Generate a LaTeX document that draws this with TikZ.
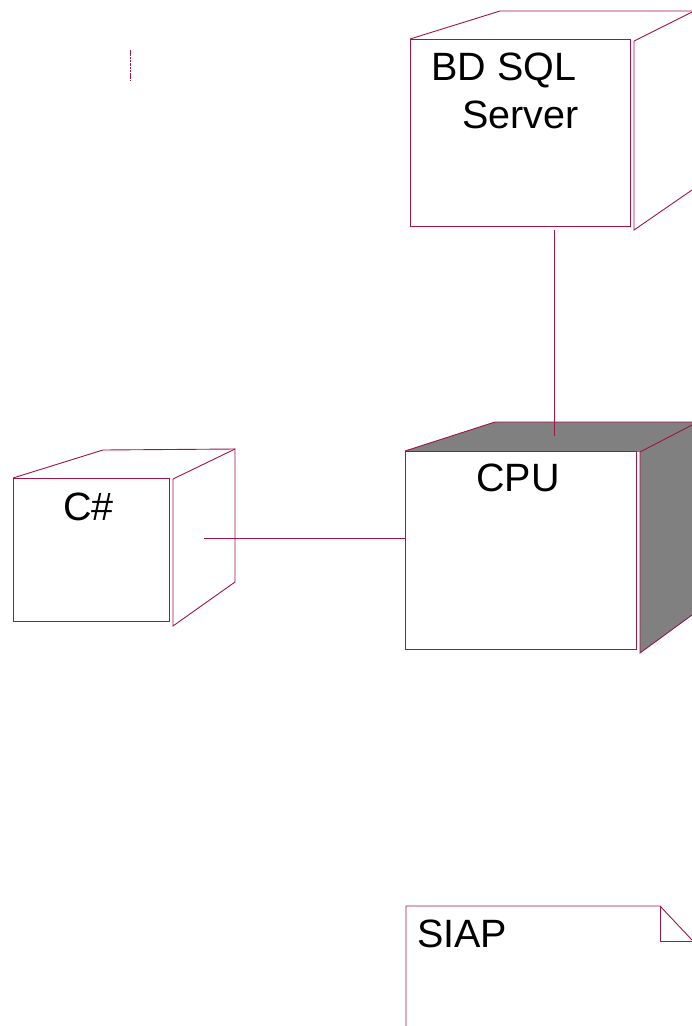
\documentclass[tikz,border=0pt]{standalone}
\usepackage{fontspec}
\setmainfont{Liberation Sans}
\definecolor{edge}{RGB}{160,20,70}
\definecolor{cubegray}{RGB}{128,128,128}
\begin{document}
\begin{tikzpicture}[x=1pt,y=-1pt,
  ln/.style={draw=edge,line width=0.9pt},
  face/.style={ln,fill=white,rectangle,anchor=north west,inner sep=0pt},
  lbl/.style={font=\fontsize{39.5}{44}\selectfont,anchor=base west,inner sep=0pt,text=black}]
\useasboundingbox (0,0) rectangle (692,1026);
% ---------- BD SQL Server ----------
\draw[ln] (410,39) -- (500,11) -- (692,11);
\draw[ln] (634,41) -- (692,12);
\draw[ln] (634,41) -- (634,230) -- (692,190);
\node[face,minimum width=220pt,minimum height=187pt] (bd) at (410,39) {};
\node[lbl] (bdt1) at (431,80) {BD SQL};
\node[lbl] (bdt2) at (462,128) {Server};
% ---------- CPU ----------
\fill[cubegray] (405,451) -- (495,422) -- (692,422) -- (692,615) -- (640,653) -- (640,452) -- cycle;
\draw[ln] (405,451) -- (495,422) -- (692,422);
\draw[ln] (640,452) -- (692,425);
\draw[ln] (640,452) -- (640,653) -- (692,615);
\node[face,minimum width=231pt,minimum height=198pt] (cpu) at (405,451) {};
\node[lbl] (cput) at (476,491) {CPU};
% ---------- C# ----------
\draw[ln] (13,478) -- (103,450) -- (235,449);
\draw[ln] (173,479) -- (235,449) -- (235,582) -- (173,626) -- cycle;
\node[face,minimum width=156pt,minimum height=143pt] (cs) at (13,478) {};
\node[lbl] (cst) at (63,520) {C\#};
% ---------- connectors ----------
\coordinate (bdc) at (554,230);
\coordinate (cpuc) at (554,436);
\draw[ln] (bdc) -- (cpuc);
\coordinate (csc) at (204,538);
\draw[ln] (csc) -- (cpu.west |- csc);
% ---------- SIAP note ----------
\coordinate (nb) at (406,1026);
\coordinate (nt) at (406,906);
\coordinate (nf) at (660,906);
\draw[ln] (nb) -- (nt) -- (nf) -- (692,940);
\draw[ln] (nf) -- (660,941) -- (692,941);
\node[lbl] (siap) at (417,947) {SIAP};
% ---------- small dashed mark ----------
\draw[ln,line width=0.7pt,dash pattern=on 2.5pt off 0.8pt] (130,50) -- (130,80);
\end{tikzpicture}
\end{document}
